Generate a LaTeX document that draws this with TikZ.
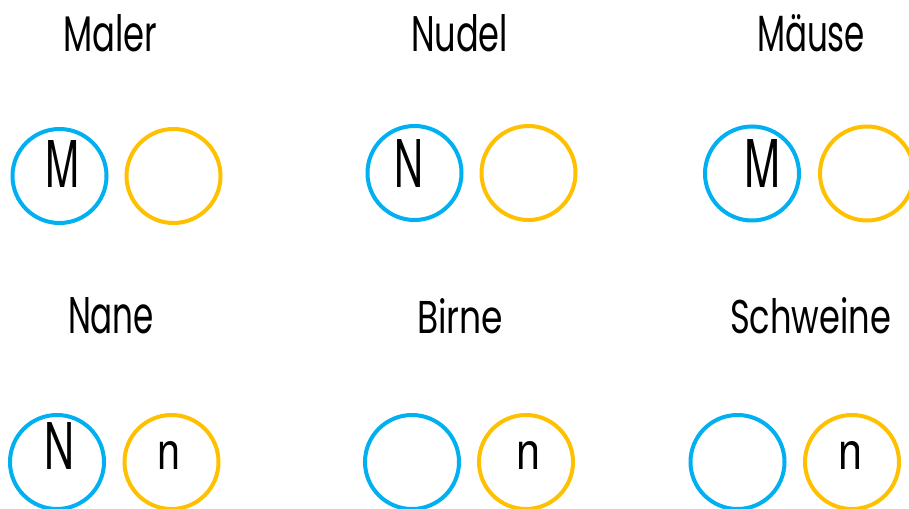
\documentclass[tikz,border=0pt]{standalone}
\usepackage{fontspec}
\setmainfont{Poppins}
\newfontfamily\letterfont{TeX Gyre Heros}
\definecolor{cblue}{HTML}{00B0F0}
\definecolor{corange}{HTML}{FFC000}
\begin{document}
\begin{tikzpicture}[x=1pt,y=-1pt,
  ring/.style={circle,draw,line width=4pt,minimum size=94pt,inner sep=0pt},
  bluering/.style={ring,draw=cblue},
  orangering/.style={ring,draw=corange},
  word/.style={anchor=base west,inner sep=0pt,outer sep=0pt},
  glyph/.style={anchor=base west,inner sep=0pt,outer sep=0pt,font=\letterfont}]
\useasboundingbox (0,0) rectangle (909,508);
% labels
\node[word] (w1) at (63,52) {\resizebox{94pt}{37pt}{Maler}};
\node[word] (w2) at (411,52) {\resizebox{97pt}{37pt}{Nudel}};
\node[word] (w3) at (757,52) {\resizebox{108pt}{37pt}{Mäuse}};
\node[word] (w4) at (68,333) {\resizebox{86pt}{36pt}{Nane}};
\node[word] (w5) at (417,333) {\resizebox{86pt}{35pt}{Birne}};
\node[word] (w6) at (730,333) {\resizebox{161pt}{36pt}{Schweine}};
% circles
\node[bluering] (b1) at (59.5,176) {};
\node[orangering] (o1) at (173.5,176) {};
\node[bluering] (b2) at (414.5,173) {};
\node[orangering] (o2) at (528.5,173) {};
\node[bluering] (b3) at (752,173.5) {};
\node[orangering] (o3) at (867,173.5) {};
\node[bluering] (b4) at (57,462) {};
\node[orangering] (o4) at (171.5,462) {};
\node[bluering] (b5) at (412,462) {};
\node[orangering] (o5) at (526,462) {};
\node[bluering] (b6) at (737.5,462) {};
\node[orangering] (o6) at (852,462) {};
% letters
\node[glyph] (l1) at (45,187) {\resizebox{34pt}{47pt}{M}};
\node[glyph] (l2) at (394,187) {\resizebox{29pt}{48pt}{N}};
\node[glyph] (l3) at (744,187) {\resizebox{36pt}{48pt}{M}};
\node[glyph] (l4) at (44,469) {\resizebox{30pt}{47pt}{N}};
\node[glyph] (l5) at (157,469) {\resizebox{23pt}{28pt}{n}};
\node[glyph] (l6) at (516,469) {\resizebox{24pt}{28pt}{n}};
\node[glyph] (l7) at (838,469) {\resizebox{24pt}{28pt}{n}};
\end{tikzpicture}
\end{document}
